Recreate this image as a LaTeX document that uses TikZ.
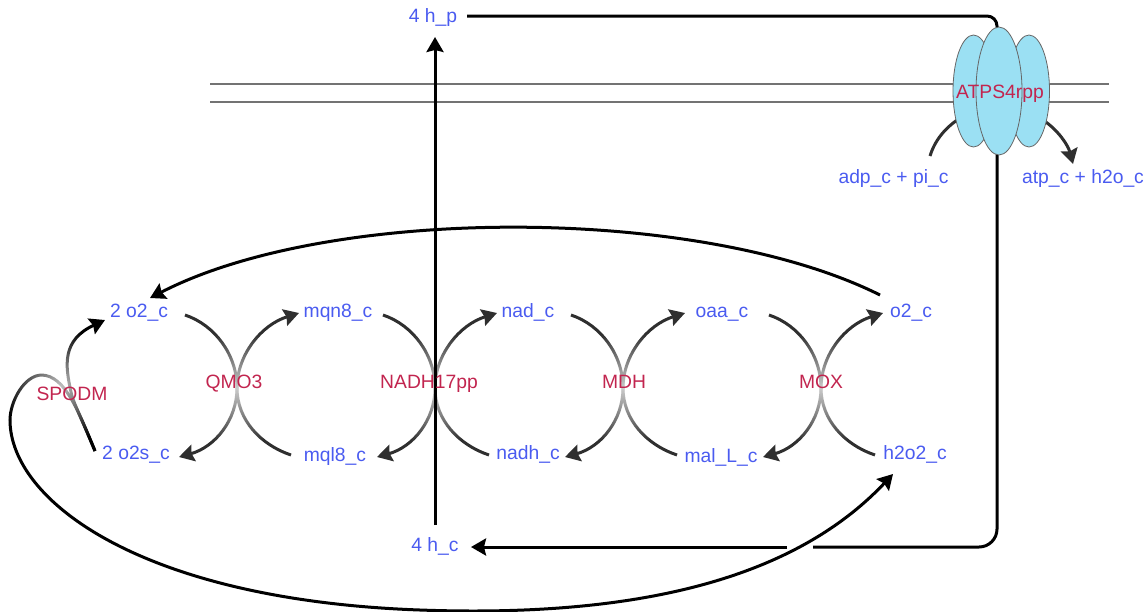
\documentclass[tikz,border=0pt]{standalone}
\usepackage{fontspec}
\setmainfont{Liberation Sans}
\usetikzlibrary{arrows.meta,fadings}
\definecolor{metcol}{HTML}{4A5BF0}
\definecolor{rxncol}{HTML}{C2254F}
\definecolor{darkarc}{HTML}{2F2F2F}
\definecolor{membfill}{HTML}{9BE0F3}
\tikzfading[name=hubfade,inner color=transparent!25,outer color=transparent!100]
\tikzset{
  x=1pt,y=-1pt,
  met/.style={text=metcol,font=\fontsize{19.3}{19}\selectfont,anchor=base,inner sep=0pt},
  rxn/.style={text=rxncol,font=\fontsize{19.3}{19}\selectfont,anchor=base,inner sep=0pt},
  arcline/.style={draw=darkarc,line width=3pt},
  arcarrow/.style={arcline,-{Stealth[length=15pt,width=17pt,inset=2pt]}},
  heavy/.style={draw=black,line width=3pt},
  heavyarrow/.style={heavy,-{Stealth[length=15pt,width=17pt,inset=2pt]}},
  membrane/.style={draw=black!55,line width=1.5pt},
  lobe/.style={draw=black!60,fill=membfill,line width=0.8pt},
}
\newcommand{\rxnarcs}[1]{%
  \coordinate (hub) at (#1,388);
  \coordinate (ul) at (#1-52,315);
  \coordinate (ll) at (#1+54,455);
  \coordinate (ur) at (#1+62,313);
  \coordinate (lr) at (#1-58,457);
  \draw[arcline] (ul) .. controls (#1-22,325) and (#1,355) .. (hub);
  \draw[arcline] (ll) .. controls (#1+24,445) and (#1,420) .. (hub);
  \draw[arcarrow] (hub) .. controls (#1,355) and (#1+24,325) .. (ur);
  \draw[arcarrow] (hub) .. controls (#1,420) and (#1-22,447) .. (lr);
  \fill[white,path fading=hubfade] (hub) circle (58);
}
\begin{document}
\begin{tikzpicture}
\useasboundingbox (0,0) rectangle (1147,611);
% membrane
\coordinate (m1a) at (210,84); \coordinate (m1b) at (1109,84);
\coordinate (m2a) at (210,102); \coordinate (m2b) at (1109,102);
\draw[membrane] (m1a) -- (m1b);
\draw[membrane] (m2a) -- (m2b);
% reactions
\rxnarcs{237}
\rxnarcs{435}
\rxnarcs{623}
\rxnarcs{821}
% SPODM
\coordinate (sp) at (95,451);
\coordinate (spb) at (71,392);
\coordinate (spt) at (105,320);
\coordinate (spe) at (893,474);
\draw[heavyarrow] (sp) .. controls (84,424) and (72,400) .. (spb)
  .. controls (65,365) and (62,340) .. (spt);
\draw[heavyarrow] (sp) .. controls (78,410) and (65,376) .. (42,375)
  .. controls (24,375) and (10,402) .. (10,420)
  .. controls (10,500) and (140,600) .. (420,610)
  .. controls (640,618) and (795,578) .. (spe);
\fill[white,path fading=hubfade] (60,386) circle (58);
% long connectors
\coordinate (o2from) at (880,295);
\coordinate (o2to) at (150,298);
\draw[heavyarrow] (o2from) .. controls (700,205) and (330,205) .. (o2to);
\coordinate (hcup) at (435,525);
\coordinate (hpdown) at (435,37);
\draw[heavyarrow] (hcup) -- (hpdown);
\coordinate (hpout) at (467,16);
\coordinate (atop) at (997,35);
\draw[heavy,rounded corners=10pt] (hpout) -- (997,16) -- (atop);
\coordinate (abot) at (997,150);
\coordinate (gapr) at (813,547);
\coordinate (gapl) at (787,547);
\coordinate (hcin) at (471,547);
\draw[heavy,rounded corners=18pt] (abot) -- (997,547) -- (gapr);
\draw[heavyarrow] (gapl) -- (hcin);
% ATP synthase side arcs
\coordinate (adpf) at (930,156);
\coordinate (adpt) at (960,118);
\coordinate (atpf) at (1043,120);
\coordinate (atpt) at (1073,164);
\draw[arcline] (adpf) .. controls (935,140) and (945,128) .. (adpt);
\draw[arcarrow] (atpf) .. controls (1058,130) and (1068,145) .. (atpt);
% ATP synthase body
\draw[lobe] (973.5,91) ellipse (20.5 and 56);
\draw[lobe] (1029,91) ellipse (20.5 and 56);
\draw[lobe] (999,91) ellipse (23 and 64);
% metabolites
\node[met] (hp) at (433,22) {4 h\_p};
\node[met] (o2a) at (139,317) {2 o2\_c};
\node[met] (mqn) at (338,317) {mqn8\_c};
\node[met] (nad) at (528,317) {nad\_c};
\node[met] (oaa) at (722,317) {oaa\_c};
\node[met] (o2c) at (911,317) {o2\_c};
\node[met] (o2s) at (136,459) {2 o2s\_c};
\node[met] (mql) at (335,461) {mql8\_c};
\node[met] (nadh) at (528,459) {nadh\_c};
\node[met] (mal) at (721,462) {mal\_L\_c};
\node[met] (hoo) at (915,459) {h2o2\_c};
\node[met] (hc) at (435,551) {4 h\_c};
\node[met] (adp) at (893.5,183) {adp\_c + pi\_c};
\node[met] (atp) at (1083,183) {atp\_c + h2o\_c};
% reaction labels
\node[rxn] (spodm) at (72,400.5) {SPODM};
\node[rxn] (qmo) at (234,388) {QMO3};
\node[rxn] (nadh17) at (429,388) {NADH17pp};
\node[rxn] (mdh) at (624,388) {MDH};
\node[rxn] (mox) at (821,388) {MOX};
\node[rxn] (atps) at (1000,98) {ATPS4rpp};
\end{tikzpicture}
\end{document}
